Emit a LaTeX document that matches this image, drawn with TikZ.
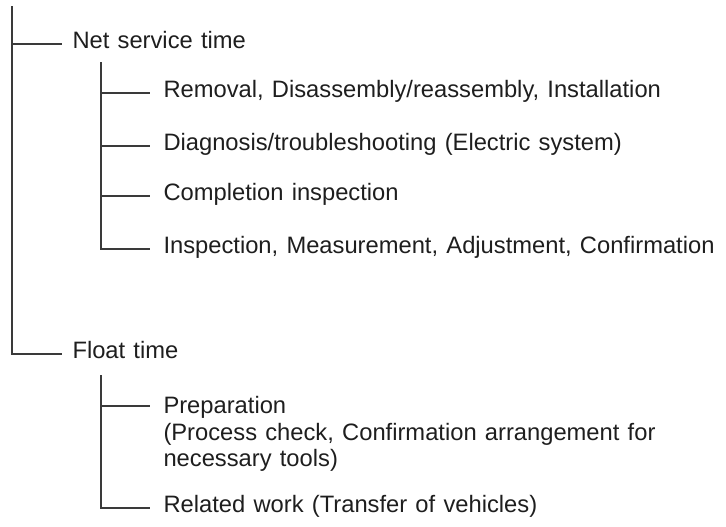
\documentclass[tikz,border=0pt]{standalone}
\usepackage{fontspec}
\setmainfont[WordSpace=1.25]{Liberation Sans}
\definecolor{treeline}{HTML}{3A3A3A}
\definecolor{treetext}{HTML}{1E1E1E}

\tikzset{every picture/.style={line width=0.75pt}}
\tikzset{
  lvlone/.style={anchor=west, inner xsep=7.5pt, inner ysep=0pt, text height=0.6em, text depth=0pt},
  lvltwo/.style={anchor=west, inner xsep=9.75pt, inner ysep=0pt, text height=0.6em, text depth=0pt},
  branch/.style={draw=treeline, line width=1.1pt}
}

\begin{document}
\begin{tikzpicture}[x=0.75pt,y=0.75pt,yscale=-1,xscale=1,
  every node/.style={font=\fontsize{17.8}{19.8}\selectfont, text=treetext}]
\useasboundingbox (0,0) rectangle (726,526); %set diagram size 726 x 526

% Text Node
\draw (62,44) node [lvlone] (net) {Net service time};
% Text Node
\draw (62,354) node [lvlone] (float) {Float time};
% Text Node
\draw (150,93) node [lvltwo] (removal) {Removal, Disassembly/reassembly, Installation};
% Text Node
\draw (150,146) node [lvltwo] (diag) {Diagnosis/troubleshooting (Electric system)};
% Text Node
\draw (150,196) node [lvltwo] (compl) {Completion inspection};
% Text Node
\draw (150,249) node [lvltwo] (insp) {Inspection, Measurement, Adjustment, Confirmation};
% Text Node
\draw (163,396) node [anchor=north west, inner sep=0pt, align=left] (prep) {Preparation\\(Process check, Confirmation arrangement for\\necessary tools)};
% Text Node
\draw (150,508) node [lvltwo] (related) {Related work (Transfer of vehicles)};

\coordinate (root) at (12,6);
\coordinate (netsub) at (101,62);
\coordinate (floatsub) at (101,375);
\coordinate (prepb) at (150,406);

% Connection
\draw [branch] (root |- net.west) -- (net.west) ;
% Connection
\draw [branch] (root) -- (root |- float.west) -- (float.west) ;
% Connection
\draw [branch] (netsub |- removal.west) -- (removal.west) ;
% Connection
\draw [branch] (netsub |- diag.west) -- (diag.west) ;
% Connection
\draw [branch] (netsub |- compl.west) -- (compl.west) ;
% Connection
\draw [branch] (netsub) -- (netsub |- insp.west) -- (insp.west) ;
% Connection
\draw [branch] (floatsub |- prepb) -- (prepb) ;
% Connection
\draw [branch] (floatsub) -- (floatsub |- related.west) -- (related.west) ;

\end{tikzpicture}
\end{document}
